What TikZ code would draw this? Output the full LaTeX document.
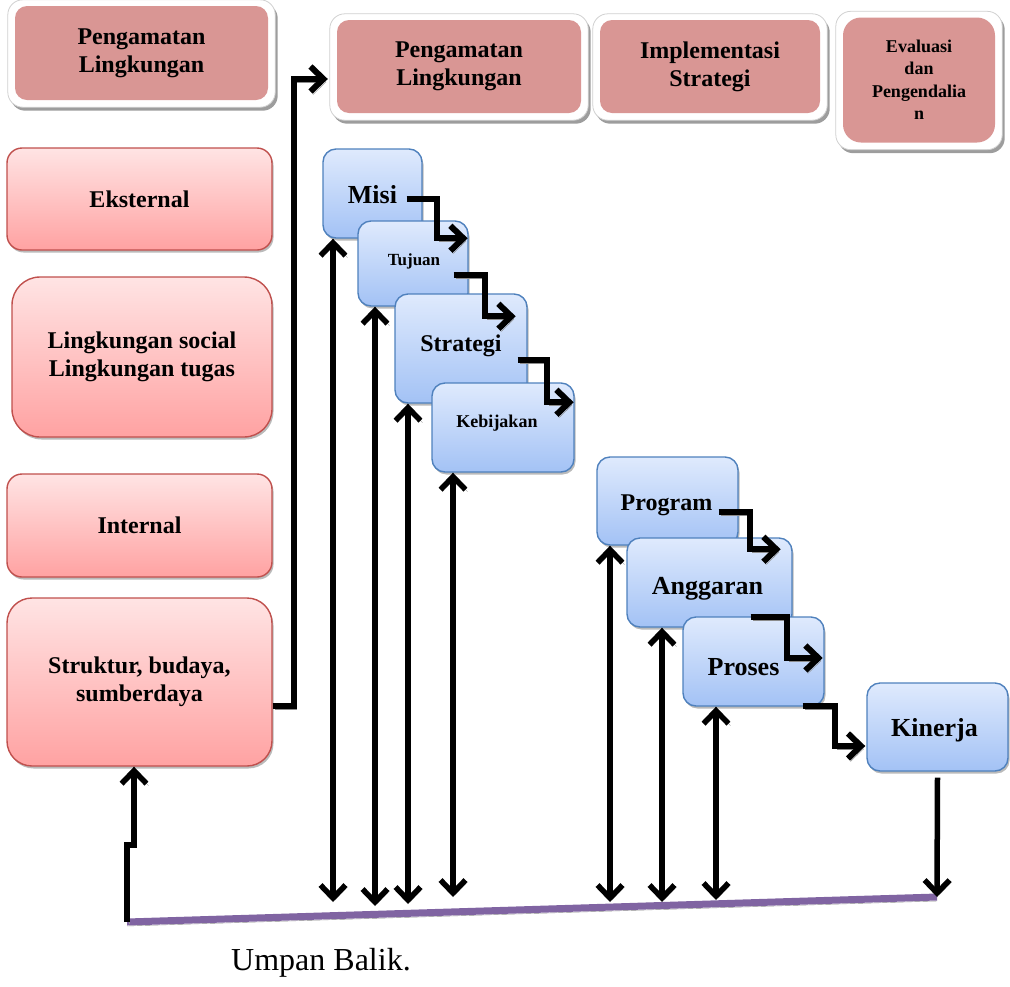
\documentclass[tikz,border=0pt]{standalone}
\usepackage{fontspec}
\setmainfont{Liberation Serif}
\usetikzlibrary{arrows.meta,shadows,backgrounds,calc}

\definecolor{hdrpink}{HTML}{D99694}
\definecolor{pinktop}{HTML}{FFE4E4}
\definecolor{pinkbot}{HTML}{FFA2A2}
\definecolor{pinkline}{HTML}{C0504D}
\definecolor{bluetop}{HTML}{DFEAFD}
\definecolor{bluebot}{HTML}{A3C2F5}
\definecolor{blueline}{HTML}{4F81BD}
\definecolor{fbpurple}{HTML}{8064A2}

% label whose baseline sits #1 below the node centre, shifted sideways by #2
\newcommand{\stagelabel}[3]{\hspace*{#2}\raisebox{-#1}{#3}}

\begin{document}
\begin{tikzpicture}[x=1pt,y=-1pt,
  bigtext/.style={font=\bfseries\fontsize{24}{28}\selectfont},
  hugetext/.style={font=\bfseries\fontsize{26}{30}\selectfont},
  hdr/.style={rectangle, rounded corners=12pt, fill=hdrpink, inner sep=0pt,
    align=center, bigtext},
  hdrframe/.style={fill=white, draw=black!18, line width=0.8pt, rounded corners=15pt,
    drop shadow={shadow xshift=2.5pt, shadow yshift=-3.5pt, fill=black!45, opacity=0.85}},
  envbox/.style={rectangle, rounded corners=15pt, top color=pinktop, bottom color=pinkbot,
    draw=pinkline, line width=1.4pt, inner sep=0pt, align=center, bigtext,
    drop shadow={shadow xshift=1.5pt, shadow yshift=-2.5pt, fill=black!45, opacity=0.6}},
  stagebox/.style={rectangle, rounded corners=13pt, top color=bluetop, bottom color=bluebot,
    draw=blueline, line width=1.4pt, inner sep=0pt, text height=0pt, text depth=0pt,
    drop shadow={shadow xshift=1.5pt, shadow yshift=-2.5pt, fill=black!45, opacity=0.6}},
  barb/.tip={Straight Barb[length=13pt,width=25pt]},
  flow/.style={line width=6pt, line join=miter, -barb,
    preaction={draw=black!45, transform canvas={xshift=2.5pt,yshift=-3pt}}},
  link/.style={line width=5.5pt, barb-barb,
    preaction={draw=black!40, transform canvas={xshift=2pt,yshift=-2pt}}},
  uplink/.style={line width=5.5pt, line join=miter, -barb,
    preaction={draw=black!40, transform canvas={xshift=2pt,yshift=-2pt}}},
  feedback/.style={line width=7pt, draw=fbpurple,
    preaction={draw=black!45, transform canvas={yshift=-4pt}}}
]
\useasboundingbox (0,0) rectangle (1010,986);

% phase headers
\node[hdr, minimum width=253pt, minimum height=94pt] (h1) at (141.5,53) {Pengamatan\\Lingkungan};
\node[hdr, minimum width=244pt, minimum height=93pt] (h2) at (459,66.5) {Pengamatan\\Lingkungan};
\node[hdr, minimum width=220pt, minimum height=93pt] (h3) at (710,66.5) {Implementasi\\Strategi};
\node[hdr, rounded corners=18pt, minimum width=152pt, minimum height=125pt,
      font=\bfseries\fontsize{18}{22.5}\selectfont] (h4) at (919,80) {Evaluasi\\dan\\Pengendalia\\n};

\begin{scope}[on background layer]
  \foreach \h in {h1,h2,h3,h4}
    \draw[hdrframe] ($(\h.south west)+(-7,7)$) rectangle ($(\h.north east)+(7,-6)$);
\end{scope}

% environment column
\node[envbox, minimum width=265pt, minimum height=102pt] (eks) at (139.5,199) {Eksternal};
\node[envbox, rounded corners=28pt, minimum width=260pt, minimum height=160pt] (ling) at (142,357)
  {Lingkungan social\\Lingkungan tugas};
\node[envbox, minimum width=265pt, minimum height=103pt] (int) at (139.5,525.5) {Internal};
\node[envbox, rounded corners=25pt, minimum width=265pt, minimum height=168pt] (struk) at (139.5,682)
  {Struktur, budaya,\\sumberdaya};

% formulation stages
\node[stagebox, minimum width=99pt, minimum height=89pt, hugetext]
  (misi) at (372.5,193.5) {\stagelabel{10pt}{0pt}{Misi}};
\node[stagebox, minimum width=110pt, minimum height=85pt, font=\bfseries\fontsize{17}{20}\selectfont]
  (tuj) at (413,263.5) {\stagelabel{1.5pt}{2pt}{Tujuan}};
\node[stagebox, minimum width=132pt, minimum height=109pt, bigtext]
  (strat) at (461,348.5) {\stagelabel{3pt}{0pt}{Strategi}};
\node[stagebox, minimum width=142pt, minimum height=89pt, font=\bfseries\fontsize{18}{21}\selectfont]
  (keb) at (503,427.5) {\stagelabel{0pt}{-12pt}{Kebijakan}};

% implementation stages
\node[stagebox, minimum width=141pt, minimum height=88pt, bigtext]
  (prog) at (667.5,501) {\stagelabel{9pt}{-2pt}{Program}};
\node[stagebox, minimum width=165pt, minimum height=89pt, hugetext]
  (angg) at (709.5,582.5) {\stagelabel{11.5pt}{-4pt}{Anggaran}};
\node[stagebox, minimum width=141pt, minimum height=89pt, hugetext]
  (pros) at (753.5,661.5) {\stagelabel{14pt}{-20pt}{Proses}};
\node[stagebox, minimum width=141pt, minimum height=88pt, hugetext]
  (kin) at (937.5,727) {\stagelabel{9.5pt}{-6pt}{Kinerja}};

% stepped flow arrows
\draw[flow] ($(misi.east)+(-16,5)$) -- ++(30,0) |- ($(tuj.north east)+(-1,18)$);
\draw[flow] ($(tuj.east)+(-15,11.5)$) -- ++(31,0) |- ($(strat.north east)+(-12,23)$);
\draw[flow] ($(strat.east)+(-10,11.5)$) -- ++(29,0) |- ($(keb.north east)+(-1,20)$);
\draw[flow] ($(prog.east)+(-20,11)$) -- ++(31,0) |- ($(angg.north east)+(-12,12)$);
\draw[flow] ($(angg.south east)+(-42,-11)$) -- ++(36,0) |- ($(pros.east)+(-2,-3.5)$);
\draw[flow] ($(pros.south east)+(-22,-1)$) -- ++(32,0) |- ($(kin.west)+(-1,19)$);

% link from the internal environment to the first phase
\draw[flow] ($(struk.east)+(0,24)$) -- ++(21,0) |- ($(h2.west)+(-9,12.5)$);

% feedback line
\coordinate (fbL) at (127,922);
\coordinate (fbR) at (937,897);
\draw[feedback] (fbL) -- (fbR);

% two-way links between stages and feedback
\coordinate (b1) at (333,902);
\coordinate (b2) at (375,906);
\coordinate (b3) at (408,904);
\coordinate (b4) at (453,897);
\coordinate (b5) at (610,902);
\coordinate (b6) at (662,902);
\coordinate (b7) at (716,900);
\draw[link] (b1) -- (b1 |- misi.south);
\draw[link] (b2) -- (b2 |- tuj.south);
\draw[link] (b3) -- (b3 |- strat.south);
\draw[link] (b4) -- (b4 |- keb.south);
\draw[link] (b5) -- (b5 |- prog.south);
\draw[link] (b6) -- (b6 |- angg.south);
\draw[link] (b7) -- (b7 |- pros.south);

% performance to feedback
\draw[uplink] ($(kin.south)+(0,6)$) -- (fbR);

% feedback back to the internal environment
\coordinate (jog) at (134,845);
\draw[uplink] (fbL) |- (jog) -- (jog |- struk.south);

\node[font=\fontsize{32}{36}\selectfont] (umpan) at (321,963) {Umpan Balik.};
\end{tikzpicture}
\end{document}
